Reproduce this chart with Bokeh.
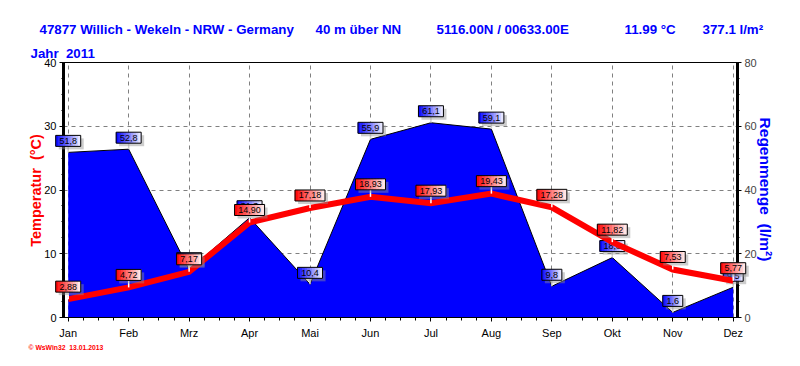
import math
from bokeh.plotting import figure
from bokeh.models import Range1d, LinearAxis, FixedTicker
from bokeh.embed import file_html
from bokeh.resources import INLINE
from bokeh.core.properties import value

# ---------------- data ----------------
months = ["Jan", "Feb", "Mrz", "Apr", "Mai", "Jun", "Jul", "Aug", "Sep", "Okt", "Nov", "Dez"]
temperature = [2.88, 4.72, 7.17, 14.90, 17.18, 18.93, 17.93, 19.43, 17.28, 11.82, 7.53, 5.77]
rain = [51.8, 52.8, 15.0, 31.3, 10.4, 55.9, 61.1, 59.1, 9.8, 18.8, 1.6, 9.5]
temp_ticks = [0, 10, 20, 30, 40]
rain_ticks = [0, 20, 40, 60, 80]

NB = "\u00a0"
station = "47877 Willich - Wekeln - NRW - Germany"
altitude = "40 m über NN"
coords = "5116.00N / 00633.00E"
mean_temp = "11.99 °C"
total_rain = "377.1 l/m²"
year_text = "Jahr" + NB + NB + "2011"
temp_title = "Temperatur" + NB + NB + "(°C)"
rain_title = "Regenmenge" + NB + NB + "(l/m²)"
footer = "© WsWin32" + NB + NB + "13.01.2013"

# ---------------- layout ----------------
FL, FT, FW, FH = 63, 62, 674, 255     # frame left/top/width/height (px)
W, H = 784, 350
X0, X1 = -0.078, 11.071
SX = FW / (X1 - X0)                          # px per month
ST = FH / (temp_ticks[-1] - temp_ticks[0])   # px per °C
SR = FH / (rain_ticks[-1] - rain_ticks[0])   # px per mm


def dx(rx):
    return X0 + (rx - FL) / SX


def dy(ry):
    return temp_ticks[0] + (FT + FH - ry) / ST


idx = list(range(len(months)))

p = figure(frame_width=FW, frame_height=FH,
           x_range=Range1d(X0, X1), y_range=Range1d(temp_ticks[0], temp_ticks[-1]),
           output_backend="svg", toolbar_location=None,
           min_border_left=FL, min_border_right=W - FL - FW,
           min_border_top=FT, min_border_bottom=H - FT - FH,
           background_fill_color="white", border_fill_color="white")
p.extra_y_ranges = {"rain": Range1d(rain_ticks[0], rain_ticks[-1])}
p.outline_line_color = "black"
p.outline_line_width = 1

FONT = "Liberation Sans"

# axes
p.xaxis.ticker = FixedTicker(ticks=idx, minor_ticks=[i / 4 for i in range(4 * (len(months) - 1) + 1)])
p.xaxis.major_label_overrides = {i: m for i, m in enumerate(months)}
p.yaxis.ticker = FixedTicker(ticks=temp_ticks, minor_ticks=[i * 2.5 for i in range(17)])

for ax in (p.xaxis[0], p.yaxis[0]):
    ax.axis_line_color = "black"
    ax.major_tick_line_color = "black"
    ax.minor_tick_line_color = "black"
    ax.major_tick_in = 0
    ax.minor_tick_in = 0
    ax.major_label_text_font = FONT
    ax.major_label_text_font_size = "11px"
    ax.major_label_text_color = "black"
p.xaxis.axis_line_width = 1
p.xaxis.major_tick_out = 4
p.xaxis.minor_tick_out = 3
p.xaxis.major_label_standoff = 5
p.yaxis.axis_line_width = 3
p.yaxis.major_tick_out = 4
p.yaxis.minor_tick_out = 2
p.yaxis.major_label_standoff = 3

rax = LinearAxis(y_range_name="rain",
                 ticker=FixedTicker(ticks=rain_ticks, minor_ticks=list(range(0, 81, 5))))
rax.axis_line_width = 3
rax.axis_line_color = "black"
rax.major_tick_in = 0
rax.minor_tick_in = 0
rax.major_tick_out = 4
rax.minor_tick_out = 2
rax.major_label_standoff = 3
rax.major_label_text_font = FONT
rax.major_label_text_font_size = "11px"
p.add_layout(rax, "right")

# grid
p.xgrid.ticker = FixedTicker(ticks=idx)
p.ygrid.ticker = FixedTicker(ticks=temp_ticks)
for g in (p.xgrid[0], p.ygrid[0]):
    g.grid_line_color = "#808080"
    g.grid_line_dash = "4 4"
    g.grid_line_width = 1

# rain area
p.varea(x=idx, y1=[0] * len(rain), y2=rain, y_range_name="rain", fill_color="#0000FF")
p.line(idx, rain, y_range_name="rain", line_color="black", line_width=1)


def value_boxes(xs, ys, texts, yname, ppu, base, offset_px, pointer_color):
    h = 11
    n = 10
    sh_x, sh_y, sl_x, sl_y, sl_w, sl_c = [], [], [], [], [], []
    bx, by, bw = [], [], []
    px0, py0, py1 = [], [], []
    for x, y, t in zip(xs, ys, texts):
        w = 5 * len(t) + 5
        yc = y + (offset_px + h / 2) / ppu
        sh_x.append(x + 3 / SX)
        sh_y.append(yc - 3 / ppu)
        bx.append(x)
        by.append(yc)
        bw.append(w)
        px0.append(x)
        py0.append(y)
        py1.append(y + offset_px / ppu)
        for k in range(n):
            f = (k + 0.5) / n
            sl_x.append(x + (-w / 2 + (k + 0.5) * w / n) / SX)
            sl_y.append(yc)
            sl_w.append(w / n + 0.6)
            r = int(base[0] + (255 - base[0]) * f * 0.95)
            g = int(base[1] + (255 - base[1]) * f * 0.95)
            b = int(base[2] + (255 - base[2]) * f * 0.95)
            sl_c.append("#%02x%02x%02x" % (r, g, b))
    kw = {"level": "overlay"}
    if yname is not None:
        kw["y_range_name"] = yname
    p.segment(x0=px0, y0=py0, x1=px0, y1=py1, line_color=pointer_color, line_width=1.5, **kw)
    p.rect(x=sh_x, y=sh_y, width=bw, height=[h] * len(bw), width_units="screen",
           height_units="screen", fill_color="#909090", fill_alpha=0.45, line_color=None, **kw)
    p.rect(x=sl_x, y=sl_y, width=sl_w, height=[h] * len(sl_w), width_units="screen",
           height_units="screen", fill_color=sl_c, line_color=None, **kw)
    p.rect(x=bx, y=by, width=bw, height=[h] * len(bw), width_units="screen",
           height_units="screen", fill_color=None, line_color="black", line_width=1, **kw)
    p.text(x=bx, y=by, text=texts, text_align="center", text_baseline="middle",
           text_font=value(FONT), text_font_size="9px", text_color="black", **kw)


rain_txt = [("%.1f" % v).replace(".", ",") for v in rain]
temp_txt = [("%.2f" % v).replace(".", ",") for v in temperature]

value_boxes(idx, rain, rain_txt, "rain", SR, (0, 0, 255), 6, "#d0d0d0")

# temperature line (overlay so that it covers the rain value boxes)
p.line(idx, temperature, line_color="#FF0000", line_width=6, line_join="miter", level="overlay")

value_boxes(idx, temperature, temp_txt, None, ST, (255, 0, 0), 7, "white")

# texts (overlay-level text glyphs are not clipped to the plot frame)
BLUE = "#0000FF"
RED = "#FF0000"


def lab(text, rx, ry, color, size, angle=0.0, align="left", baseline="alphabetic", style="bold"):
    p.text(x=[dx(rx)], y=[dy(ry)], text=[text], text_color=color, text_font=value(FONT),
           text_font_size=size, text_font_style=style, angle=angle,
           text_align=align, text_baseline=baseline, level="overlay")


lab(station, 39, 29.3, BLUE, "13.3px")
lab(altitude, 315, 29.3, BLUE, "13.3px")
lab(coords, 436, 29.3, BLUE, "13.3px")
lab(mean_temp, 624, 29.3, BLUE, "13.3px")
lab(total_rain, 702, 29.3, BLUE, "13.3px")
lab(year_text, 30, 52.7, BLUE, "13.3px")
lab(temp_title, 35, 190, RED, "14.5px", angle=math.pi / 2, align="center", baseline="middle")
lab(rain_title, 765, 189, BLUE, "15.5px", angle=-math.pi / 2, align="center", baseline="middle")
lab(footer, 28, 347, RED, "6.8px", baseline="middle")

open("out.html", "w").write(file_html(p, INLINE))
